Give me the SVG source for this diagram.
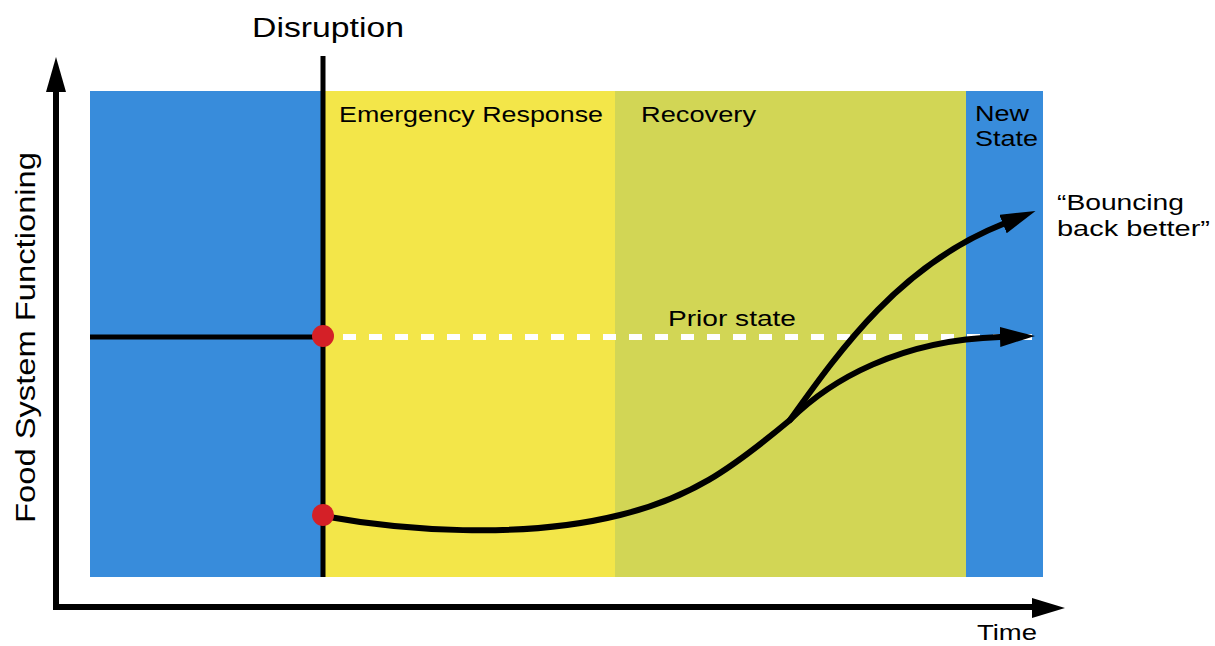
<svg xmlns="http://www.w3.org/2000/svg" width="1215" height="646" viewBox="0 0 1215 646">
<style>
text{font-family:"Liberation Sans",Arial,sans-serif;fill:#000}
.lbl{font-size:22px}
.big{font-size:27px}
.ax{stroke:#000;stroke-width:6;fill:none}
.crv{stroke:#000;stroke-width:6;fill:none;stroke-linecap:round}
.dot{fill:#D42027}
</style>
<defs>
<marker id="ah" markerUnits="userSpaceOnUse" markerWidth="40" markerHeight="24" refX="0" refY="10" orient="auto">
<path d="M0,0 L35,10 L0,20 Z" fill="#000"/>
</marker>
</defs>
<g id="bands">
<rect x="90" y="91" width="233" height="486" fill="#388CDB"/>
<rect x="323" y="91" width="293" height="486" fill="#F3E649"/>
<rect x="615" y="91" width="351" height="486" fill="#D2D655"/>
<rect x="966" y="91" width="77" height="486" fill="#388CDB"/>
</g>
<g id="labels">
<text class="big" x="252" y="37" textLength="152" lengthAdjust="spacingAndGlyphs">Disruption</text>
<text class="lbl" x="339" y="122" textLength="264" lengthAdjust="spacingAndGlyphs">Emergency Response</text>
<text class="lbl" x="641" y="122" textLength="115" lengthAdjust="spacingAndGlyphs">Recovery</text>
<text class="lbl" x="975" y="121" textLength="54" lengthAdjust="spacingAndGlyphs">New</text>
<text class="lbl" x="975" y="146" textLength="63" lengthAdjust="spacingAndGlyphs">State</text>
<text class="lbl" x="668" y="326" textLength="128" lengthAdjust="spacingAndGlyphs">Prior state</text>
<text class="lbl" x="1057" y="210" textLength="127" lengthAdjust="spacingAndGlyphs">“Bouncing</text>
<text class="lbl" x="1057" y="236" textLength="153" lengthAdjust="spacingAndGlyphs">back better”</text>
<text class="lbl" x="977" y="640" textLength="60" lengthAdjust="spacingAndGlyphs">Time</text>
<text class="big" transform="translate(35,523) rotate(-90)" textLength="371" lengthAdjust="spacingAndGlyphs">Food System Functioning</text>
</g>
<g id="connectors">
<path class="ax" d="M56,92 V607 H1032"/>
<path d="M46,92 L56,57 L66,92 Z" fill="#000"/>
<path d="M1032,598 L1065,608 L1032,618 Z" fill="#000"/>
<line x1="323" y1="56" x2="323" y2="577" stroke="#000" stroke-width="5"/>
<line x1="90" y1="337" x2="323" y2="337" stroke="#000" stroke-width="5"/>
<line x1="343" y1="337" x2="1035" y2="337" stroke="#fff" stroke-width="6" stroke-dasharray="13 13"/>
<path class="crv" d="M323,516 C400,530 520,540 620,515 C690,498 730,470 790,420 C830,380 900,340 1000,337" marker-end="url(#ah)"/>
<path class="crv" d="M790,420 C840,350 900,265 1003,224" marker-end="url(#ah)"/>
</g>
<g id="nodes">
<circle id="start" class="dot" cx="323" cy="336" r="11"/>
<circle id="drop" class="dot" cx="323" cy="515" r="11"/>
</g>
</svg>
